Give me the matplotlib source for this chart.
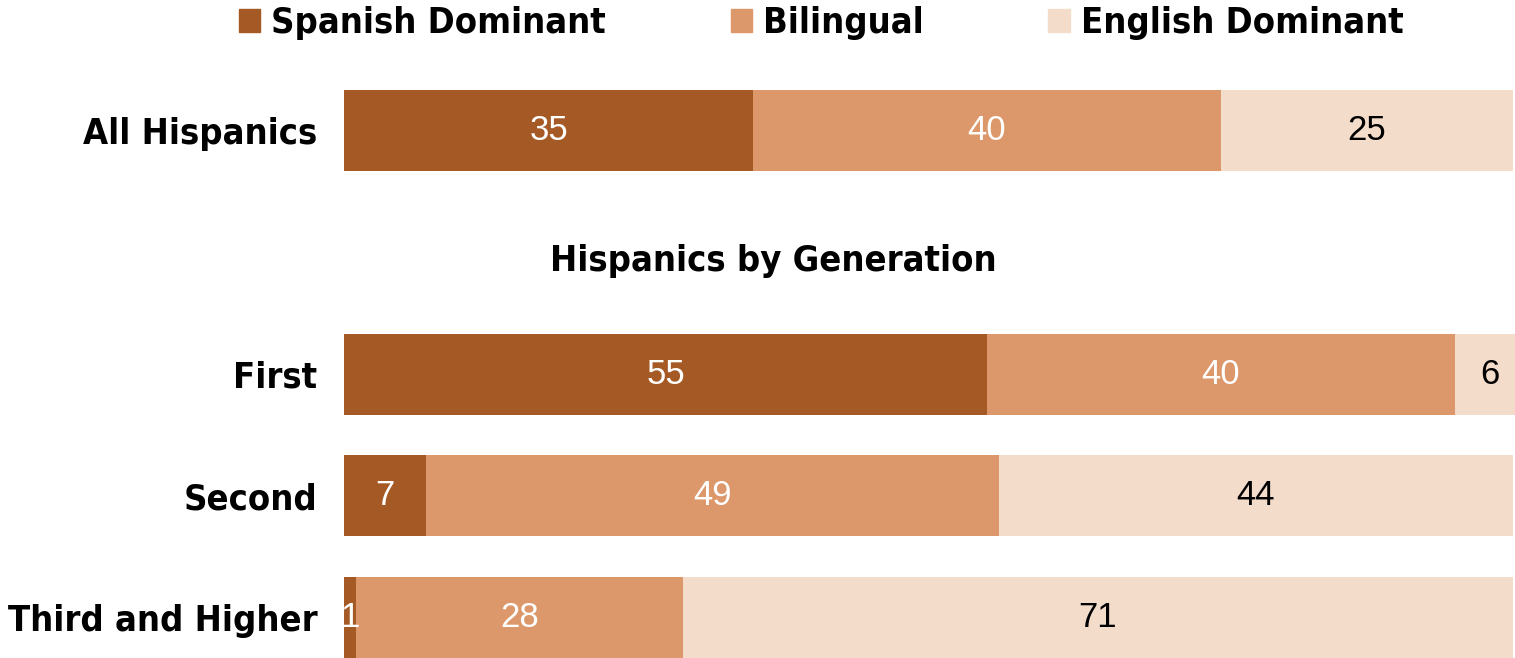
import matplotlib.pyplot as plt
import numpy as np
from matplotlib.patches import Patch

plt.rcParams['font.family'] = ['DejaVu Sans']
plt.rcParams['font.stretch'] = 'condensed'

rows = ["All Hispanics", "First", "Second", "Third and Higher"]
spanish = [35, 55, 7, 1]
bilingual = [40, 40, 49, 28]
english = [25, 6, 44, 71]
series = ["Spanish Dominant", "Bilingual", "English Dominant"]
colors = ["#A55A26", "#DC976A", "#F4DCCB"]
text_colors = ["white", "white", "black"]

ypos = np.array([0, 2, 3, 4])

fig = plt.figure(figsize=(15.15, 6.58), dpi=100)
ax = fig.add_axes([344 / 1515, 0, 1 - 344 / 1515, 1])

left = np.zeros(len(rows))
for vals, c, tc in zip([spanish, bilingual, english], colors, text_colors):
    vals = np.array(vals, dtype=float)
    ax.barh(ypos, vals, left=left, height=0.664, color=c)
    for y, l, v in zip(ypos, left, vals):
        ax.text(l + v / 2, y, f"{int(v)}", ha="center", va="center",
                color=tc, fontsize=25, family=["Liberation Sans", "DejaVu Sans"],
                stretch="normal")
    left += vals

ax.text(36.7, 1.07, "Hispanics by Generation", ha="center", va="center",
        fontsize=26, fontweight="bold")

ax.set_xlim(0, 100.17)
ax.set_ylim(4.33, -1.07)
ax.set_yticks(ypos)
ax.set_yticklabels(rows, fontsize=26, fontweight="bold")
ax.tick_params(axis="y", length=0, pad=19)
ax.set_xticks([])
for s in ax.spines.values():
    s.set_visible(False)

handles = [Patch(color=c, label=s) for c, s in zip(colors, series)]
fig.legend(handles=handles, loc="upper center", bbox_to_anchor=(0.542, 1.04),
           ncol=3, frameon=False, handlelength=0.6, handleheight=0.6,
           handletextpad=0.3, columnspacing=3.45,
           prop={"size": 26, "weight": "bold"})

fig.savefig("out.png", dpi=100)
